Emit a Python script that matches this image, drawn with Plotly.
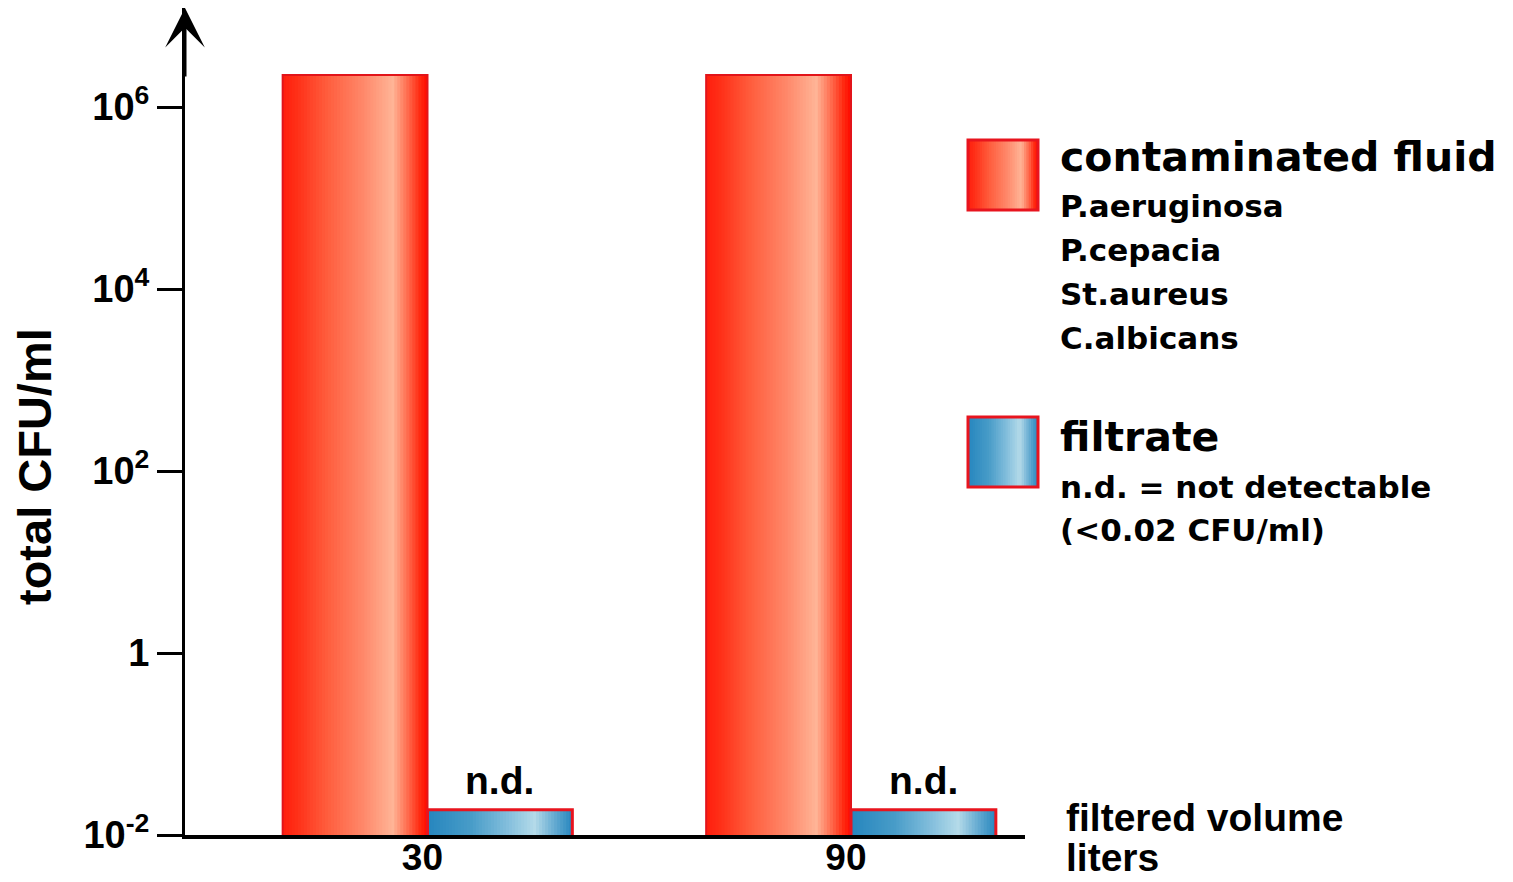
import math
import plotly.graph_objects as go

# ---------------- data ----------------
categories = ["30", "90"]
contaminated_values = [2.25e6, 2.25e6]
filtrate_values = [0.019, 0.019]
filtrate_labels = ["n.d.", "n.d."]
y_tick_values = [1e-2, 1, 1e2, 1e4, 1e6]
y_tick_labels = ["10<sup>-2</sup>", "1", "10<sup>2</sup>", "10<sup>4</sup>", "10<sup>6</sup>"]
legend_titles = ["contaminated fluid", "filtrate"]
legend_notes = [["P.aeruginosa", "P.cepacia", "St.aureus", "C.albicans"],
                ["n.d. = not detectable", "(<0.02 CFU/ml)"]]
y_title = "total CFU/ml"
x_title_lines = ["filtered volume", "liters"]

# ---------------- layout constants ----------------
W, H = 1513, 882
PL, PR, PT, PB = 185, 1025, 8, 835   # plot area in pixels
PX_PER_DEC = 91.0
LEG_FONT = "DejaVu Sans"
AX_FONT = "Liberation Sans, Arial, sans-serif"
BAR_W = 0.342
LABEL_SHIFT = -0.012  # category labels sit slightly left of the bar-group centre

red_stops = [(0.0, (255, 30, 14)), (0.1, (255, 48, 24)), (0.3, (255, 92, 60)),
             (0.55, (255, 135, 105)), (0.76, (255, 180, 150)), (0.86, (255, 110, 80)),
             (0.95, (255, 40, 16)), (1.0, (255, 10, 0))]
blue_stops = [(0.0, (38, 134, 190)), (0.3, (72, 156, 200)), (0.55, (130, 190, 220)),
              (0.74, (180, 218, 233)), (0.86, (110, 176, 212)), (1.0, (38, 134, 190))]


def grad(stops, t):
    for (t0, c0), (t1, c1) in zip(stops[:-1], stops[1:]):
        if t0 <= t <= t1:
            f = (t - t0) / (t1 - t0) if t1 > t0 else 0
            c = [round(a + (b - a) * f) for a, b in zip(c0, c1)]
            return "rgb(%d,%d,%d)" % tuple(c)
    return "rgb(%d,%d,%d)" % stops[-1][1]


def strip_trace(values, start, width, stops, n=48):
    xs, ys, offs, wids, cols = [], [], [], [], []
    s = width / n
    for ci, v in enumerate(values):
        for i in range(n):
            off = start + i * s
            xs.append(ci)
            ys.append(v)
            offs.append(off)
            wids.append(min(s * 1.8, start + width - off))
            cols.append(grad(stops, (i + 0.5) / n))
    return go.Bar(x=xs, y=ys, offset=offs, width=wids,
                  marker=dict(color=cols, line=dict(width=0)),
                  hoverinfo="skip", showlegend=False)


fig = go.Figure()
fig.add_trace(strip_trace(contaminated_values, -BAR_W, BAR_W, red_stops))
fig.add_trace(strip_trace(filtrate_values, 0.0, BAR_W, blue_stops))
fig.add_trace(go.Bar(name=legend_titles[0], x=list(range(len(categories))), y=contaminated_values,
                     offset=-BAR_W, width=BAR_W,
                     marker=dict(color="rgba(0,0,0,0)", line=dict(color="#e2141a", width=2)),
                     showlegend=False))
fig.add_trace(go.Bar(name=legend_titles[1], x=list(range(len(categories))), y=filtrate_values,
                     offset=0.0, width=BAR_W,
                     marker=dict(color="rgba(0,0,0,0)", line=dict(color="#e8141e", width=3)),
                     showlegend=False))

x0 = (PL - 427.5) / 423.5
x1 = (PR - 427.5) / 423.5
ytop = -2 + (PB - PT) / PX_PER_DEC


def xp(px):
    return (px - PL) / (PR - PL)


def yp(py):
    return (PB - py) / (PB - PT)


shapes = []
annotations = []

# "n.d." labels above the filtrate bars
for ci, (v, lab) in enumerate(zip(filtrate_values, filtrate_labels)):
    annotations.append(dict(x=ci + BAR_W / 2, y=math.log10(v), xref="x", yref="y",
                            text=lab, showarrow=False, xanchor="center", yanchor="bottom",
                            yshift=6,
                            font=dict(family=AX_FONT, size=39, color="black", weight="bold")))


def swatch(xa, xb, ya, yb, stops, n=30):
    s = (xb - xa) / n
    for i in range(n):
        shapes.append(dict(type="rect", xref="paper", yref="paper",
                           x0=xp(xa + i * s), x1=xp(min(xa + (i + 1.6) * s, xb)),
                           y0=yp(yb), y1=yp(ya), line=dict(width=0),
                           fillcolor=grad(stops, (i + 0.5) / n), layer="above"))
    shapes.append(dict(type="rect", xref="paper", yref="paper",
                       x0=xp(xa), x1=xp(xb), y0=yp(yb), y1=yp(ya),
                       line=dict(color="#e8141e", width=3), layer="above"))


swatch(968, 1038, 140, 210, red_stops)
swatch(968, 1038, 417, 487, blue_stops)


def text(px, py, t, size, family, angle=0, xanchor="left"):
    annotations.append(dict(x=xp(px), y=yp(py), xref="paper", yref="paper", text=t,
                            showarrow=False, xanchor=xanchor, yanchor="middle",
                            textangle=angle,
                            font=dict(family=family, size=size, color="black", weight="bold")))


text(1058, 157, legend_titles[0], 41, LEG_FONT)
for i, note in enumerate(legend_notes[0]):
    text(1058, 206 + 44 * i, note, 31, LEG_FONT)
text(1058, 437, legend_titles[1], 41, LEG_FONT)
for i, note in enumerate(legend_notes[1]):
    text(1058, 487 + 43 * i, note, 31, LEG_FONT)
text(1064, 817, x_title_lines[0], 39, AX_FONT)
text(1064, 857, x_title_lines[1], 39, AX_FONT)
text(34, 467, y_title, 47, AX_FONT, angle=-90, xanchor="center")

# arrow at the top of the y axis
annotations.append(dict(x=0, y=1, xref="paper", yref="paper", ax=0, ay=70,
                        axref="pixel", ayref="pixel", text="", showarrow=True,
                        arrowhead=3, arrowsize=2.2, arrowwidth=3, arrowcolor="black",
                        standoff=0))

fig.update_layout(
    width=W, height=H,
    margin=dict(l=PL, r=W - PR, t=PT, b=H - PB, pad=0, autoexpand=False),
    paper_bgcolor="white", plot_bgcolor="white",
    barmode="overlay",
    showlegend=False,
    shapes=shapes, annotations=annotations,
    xaxis=dict(range=[x0, x1], tickvals=[i + LABEL_SHIFT for i in range(len(categories))],
               ticktext=categories,
               showline=True, linecolor="black", linewidth=4, ticks="",
               showgrid=False, zeroline=False, automargin=False,
               ticklabelstandoff=-13,
               tickfont=dict(family=AX_FONT, size=37, color="black", weight="bold")),
    yaxis=dict(type="log", range=[-2, ytop], tickvals=y_tick_values, ticktext=y_tick_labels,
               showline=True, linecolor="black", linewidth=3, ticks="outside",
               ticklen=25, tickwidth=3, tickcolor="black", showgrid=False, zeroline=False,
               automargin=False,
               tickfont=dict(family=AX_FONT, size=38, color="black", weight="bold")),
)

# the page's default 8px body margin would push the figure off the window
fig.write_html("out.html", config={"displayModeBar": False},
               post_script="document.body.style.margin='0px';")
